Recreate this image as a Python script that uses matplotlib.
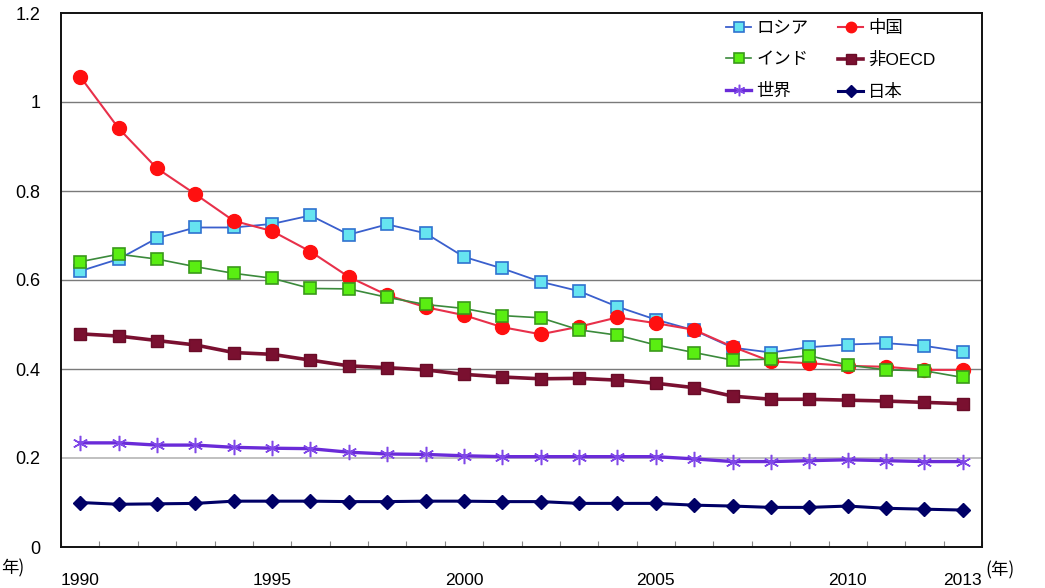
import numpy as np
import matplotlib
matplotlib.use('Agg')
import matplotlib.pyplot as plt

plt.rcParams['font.family'] = ['Liberation Sans', 'Noto Sans CJK JP', 'DejaVu Sans']

# 年次
years = list(range(1990, 2014))
tick_years = [1990, 1995, 2000, 2005, 2010, 2013]

# 各国・地域の値
russia = [0.620, 0.647, 0.694, 0.718, 0.718, 0.726, 0.745, 0.702, 0.725, 0.705,
          0.652, 0.626, 0.596, 0.575, 0.540, 0.511, 0.487, 0.448, 0.437, 0.449,
          0.455, 0.458, 0.452, 0.439]
china = [1.057, 0.941, 0.851, 0.793, 0.733, 0.710, 0.664, 0.607, 0.566, 0.539,
         0.521, 0.494, 0.478, 0.495, 0.516, 0.503, 0.488, 0.450, 0.417, 0.413,
         0.407, 0.405, 0.398, 0.398]
india = [0.641, 0.658, 0.647, 0.630, 0.615, 0.604, 0.581, 0.580, 0.561, 0.545,
         0.536, 0.520, 0.515, 0.488, 0.476, 0.454, 0.437, 0.420, 0.422, 0.430,
         0.409, 0.398, 0.396, 0.381]
non_oecd = [0.479, 0.474, 0.464, 0.454, 0.437, 0.433, 0.420, 0.407, 0.403, 0.398,
            0.388, 0.382, 0.378, 0.379, 0.375, 0.368, 0.358, 0.339, 0.332, 0.332,
            0.330, 0.328, 0.325, 0.322]
world = [0.234, 0.234, 0.229, 0.229, 0.224, 0.222, 0.221, 0.213, 0.209, 0.208,
         0.205, 0.203, 0.203, 0.203, 0.203, 0.203, 0.198, 0.192, 0.192, 0.194,
         0.196, 0.194, 0.192, 0.192]
japan = [0.100, 0.096, 0.097, 0.098, 0.103, 0.103, 0.103, 0.102, 0.102, 0.103,
         0.103, 0.102, 0.102, 0.098, 0.098, 0.098, 0.094, 0.092, 0.089, 0.089,
         0.092, 0.087, 0.085, 0.083]

CJK = ['Noto Sans CJK JP', 'DejaVu Sans']
MIXED = ['Liberation Sans', 'Noto Sans CJK JP', 'DejaVu Sans']

fig = plt.figure(figsize=(10.45, 5.88), dpi=100)
ax = fig.add_axes([61 / 1045, 41 / 588, 921 / 1045, 534 / 588])

x = np.arange(len(years))

# 水平グリッド
for v in [0.4, 0.6, 0.8, 1.0]:
    ax.axhline(v, color='#7a7a7a', lw=1.0, zorder=1)
ax.axhline(0.2, color='#b5b5b5', lw=1.2, zorder=1)

h_ru, = ax.plot(x, russia, color='#3a5fcd', lw=1.3, marker='s', ms=9,
                mfc='#66e4f0', mec='#2f72d0', mew=1.2, zorder=3, label='ロシア')
h_cn, = ax.plot(x, china, color='#e8304a', lw=1.5, marker='o', ms=10,
                mfc='#ff1010', mec='#ff1010', zorder=4, label='中国')
h_in, = ax.plot(x, india, color='#3b8a3b', lw=1.2, marker='s', ms=9,
                mfc='#5aee12', mec='#3a9a1a', mew=1.2, zorder=5, label='インド')
h_no, = ax.plot(x, non_oecd, color='#7a1030', lw=2.6, marker='s', ms=9,
                mfc='#7a1030', mec='#6a0c28', zorder=5, label='非OECD')
h_wd, = ax.plot(x, world, color='#6a2bd8', lw=2.4, marker=(6, 2, 0), ms=11,
                mec='#8048e8', mew=1.1, zorder=5, label='世界')
h_jp, = ax.plot(x, japan, color='#000066', lw=2.2, marker='D', ms=7.5,
                mfc='#000066', mec='#000066', zorder=5, label='日本')

ax.set_xlim(-0.5, len(years) - 0.5)
ax.set_ylim(0, 1.2)

ax.set_yticks([0, 0.2, 0.4, 0.6, 0.8, 1.0, 1.2])
ax.set_yticklabels(['0', '0.2', '0.4', '0.6', '0.8', '1', '1.2'])
ax.tick_params(axis='y', length=0, pad=15, labelsize=13)

ax.set_xticks([years.index(t) for t in tick_years])
ax.set_xticklabels([str(t) for t in tick_years])
ax.tick_params(axis='x', which='major', length=0, pad=19, labelsize=12.5)
ax.set_xticks(np.arange(-0.5, len(years)), minor=True)
ax.tick_params(axis='x', which='minor', direction='in', length=4,
               color='#888888', width=0.8)

for s in ax.spines.values():
    s.set_color('#111111')
    s.set_linewidth(1.4)

fig.text(985 / 1045, 1 - 570 / 588, '(年)', fontsize=12.5, family=CJK,
         va='center', ha='left')
fig.text(1 / 1045, 1 - 568 / 588, '年)', fontsize=12.5, family=CJK,
         va='center', ha='left')

leg = ax.legend(handles=[h_ru, h_in, h_wd, h_cn, h_no, h_jp], ncol=2,
                loc='upper left', bbox_to_anchor=(726 / 1045, 1 - 20 / 588),
                bbox_transform=fig.transFigure, frameon=False,
                prop={'family': MIXED, 'size': 12.5},
                handlelength=1.45, handletextpad=0.3, columnspacing=1.7,
                labelspacing=0.92, borderpad=0, borderaxespad=0, markerscale=0.75)

fig.savefig('out.png', dpi=100)
